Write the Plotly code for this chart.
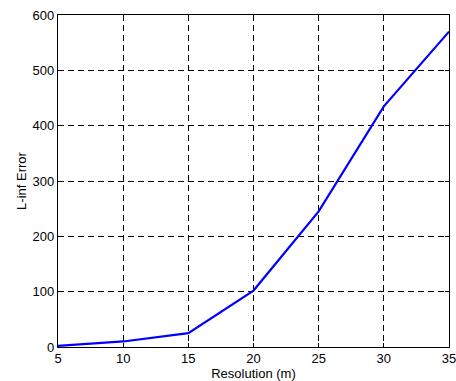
import plotly.graph_objects as go

resolution = [5, 10, 15, 20, 25, 30, 35]
linf_error = [2, 10, 25, 102, 245, 435, 570]

x_ticks = [5, 10, 15, 20, 25, 30, 35]
y_ticks = [0, 100, 200, 300, 400, 500, 600]

FONT = "Liberation Sans, Arial"

fig = go.Figure()
fig.add_trace(go.Scatter(x=resolution, y=linf_error, mode="lines",
                         line=dict(color="#0000FF", width=2.2)))

axis_common = dict(
    showline=True, linecolor="black", linewidth=1.2, mirror="ticks",
    ticks="inside", ticklen=4, tickcolor="black",
    showgrid=True, gridcolor="black", gridwidth=1, griddash="6px,4px",
    zeroline=False, automargin=False, ticklabeloverflow="allow",
    tickfont=dict(family=FONT, size=13, color="black"),
)

fig.update_layout(
    width=456, height=381,
    margin=dict(l=58, r=7, t=15, b=34),
    paper_bgcolor="white", plot_bgcolor="white",
    showlegend=False,
    xaxis=dict(range=[5, 35], tickvals=x_ticks, ticktext=[str(v) for v in x_ticks],
               ticklabelstandoff=-1,
               title=dict(text="Resolution (m)", standoff=0,
                          font=dict(family=FONT, size=13, color="black")),
               **axis_common),
    yaxis=dict(range=[0, 600], tickvals=y_ticks, ticktext=[str(v) for v in y_ticks],
               ticklabelstandoff=0,
               title=dict(text="L-inf Error", standoff=3,
                          font=dict(family=FONT, size=13, color="black")),
               **axis_common),
)

fig.write_html("out.html")
